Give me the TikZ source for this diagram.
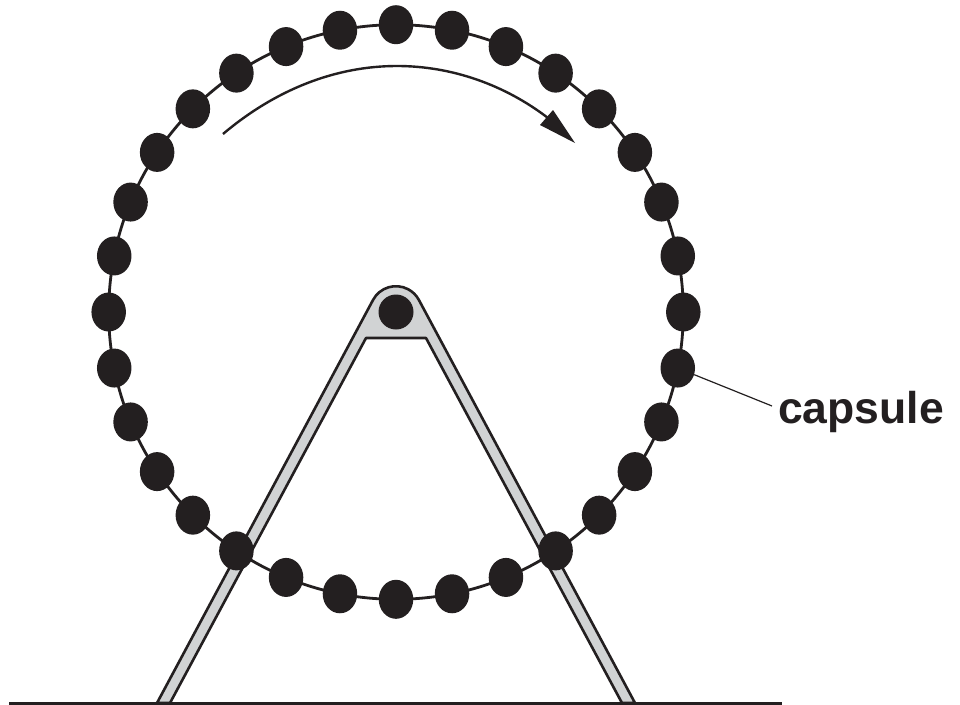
\documentclass[tikz,border=0pt]{standalone}
\usepackage{fontspec}
\usetikzlibrary{shapes.geometric}
\setmainfont{Liberation Sans}
\definecolor{ink}{HTML}{231F20}
\definecolor{steel}{HTML}{D1D3D4}
\tikzset{
  capsulenode/.style={draw=none,fill=ink,ellipse,minimum width=34.5pt,minimum height=39pt,inner sep=0pt},
  hubnode/.style={circle,fill=ink,draw=none,minimum size=35pt,inner sep=0pt},
  frameline/.style={draw=ink,line width=2.6pt,line join=round,fill=steel},
  ringline/.style={draw=ink,line width=2.8pt},
  arrowline/.style={draw=ink,line width=2.4pt},
  leader/.style={draw=ink,line width=1.2pt},
  groundline/.style={draw=ink,line width=3pt},
  labeltext/.style={font=\fontsize{44.5pt}{44.5pt}\selectfont\bfseries,text=ink,inner sep=0pt,anchor=base west}
}
\begin{document}
\begin{tikzpicture}[x=1pt,y=-1pt]
\useasboundingbox (0,0) rectangle (960,704);
\fill[white] (0,0) rectangle (960,704);
% frame
\path[frameline] (157,703) -- (373,300) arc[start angle=-152,end angle=-28,radius=26] -- (635,703) -- (622,703) -- (426,338) -- (366,338) -- (170,703) -- cycle;
\node[hubnode] (hub) at (396,312) {};
% ground
\coordinate (g1) at (9,703);
\coordinate (g2) at (782,703);
\draw[groundline] (g1) -- (g2);
% ring
\draw[ringline] (396,312) circle[radius=287.3];
% capsules
\foreach \i in {0,...,31}{
  \node[capsulenode] (c\i) at ({396+287.3*sin(\i*11.25)},{312-287.3*cos(\i*11.25)}) {};
}
% rotation arrow
\draw[arrowline] (223,134) .. controls (275,90) and (335,66) .. (397,66) .. controls (452,66) and (505,85) .. (548,118);
\fill[ink] (575,143) -- (553,110) -- (540,125) -- cycle;
% label
\node[labeltext] (lab) at (778,423) {capsule};
\coordinate (leadend) at (772,406);
\draw[leader] (c9) -- (leadend);
\end{tikzpicture}
\end{document}
